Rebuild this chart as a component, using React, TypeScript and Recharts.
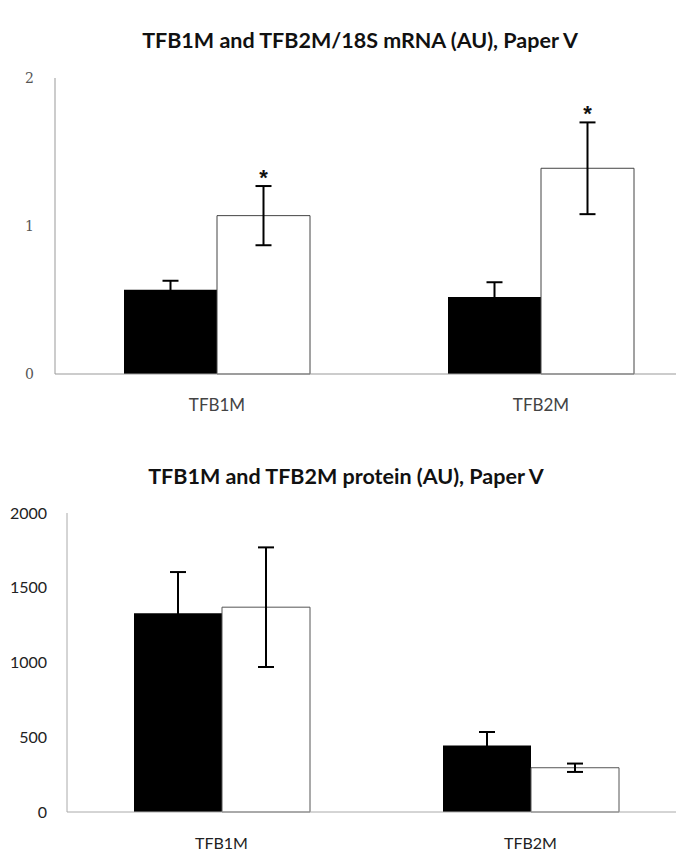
import React from "react";
import { BarChart, Bar, XAxis, YAxis, ErrorBar, LabelList } from "recharts";

// top chart: mRNA relative to 18S
const categories = ["TFB1M", "TFB2M"];
const mrnaBlack = [0.57, 0.52];
const mrnaBlackErr = [0.06, 0.1];
const mrnaWhite = [1.07, 1.39];
const mrnaWhiteErr = [0.2, 0.31];
const mrnaSig = ["*", "*"];
const mrnaTicks = [0, 1, 2];

// bottom chart: protein
const protBlack = [1330, 445];
const protBlackErr = [275, 90];
const protWhite = [1370, 296];
const protWhiteErr = [400, 28];
const protTicks = [0, 500, 1000, 1500, 2000];

const mrnaData = categories.map((c, i) => ({
  name: c,
  black: mrnaBlack[i],
  blackErr: mrnaBlackErr[i],
  white: mrnaWhite[i],
  whiteErr: mrnaWhiteErr[i],
  sig: mrnaSig[i],
}));

const protData = categories.map((c, i) => ({
  name: c,
  black: protBlack[i],
  blackErr: protBlackErr[i],
  white: protWhite[i],
  whiteErr: protWhiteErr[i],
}));

const titleFont = "Lato, 'Open Sans', sans-serif";

// asterisk sits just above the top of the error bar
const Star = (props: any) => {
  const vb = props.viewBox || props;
  const { x, y, width, height } = vb;
  const d = mrnaData[props.index];
  if (!d || !d.sig) return null;
  const pxPerUnit = height / d.white;
  const errTop = y - d.whiteErr * pxPerUnit;
  return (
    <text x={x + width / 2} y={errTop - 1} textAnchor="middle" fontSize={22} fontWeight={700}
      fontFamily="'Liberation Sans', Arial, sans-serif" fill="#111">
      {d.sig}
    </text>
  );
};

const App = () => (
  <div style={{ position: "absolute", left: 0, top: 0, width: 676, height: 853, overflow: "hidden", background: "#fff" }}>
    <div style={{ position: "absolute", top: 27, left: 0, width: 720, textAlign: "center", fontFamily: titleFont, fontWeight: 700, fontSize: 21.5, color: "#111" }}>
      TFB1M and TFB2M/18S mRNA (AU), Paper V
    </div>
    <div style={{ position: "absolute", top: 0, left: 0 }}>
      <BarChart width={710} height={430} data={mrnaData} margin={{ top: 78, right: 7, left: 15, bottom: 0 }} barGap={0} barSize={93}>
        <XAxis dataKey="name" axisLine={{ stroke: "#999" }} tickLine={false} height={56} tickMargin={19}
          tick={{ fill: "#444", fontSize: 17, fontFamily: titleFont }} />
        <YAxis domain={[0, 2]} ticks={mrnaTicks} width={40} axisLine={{ stroke: "#999" }} tickLine={false} tickMargin={15}
          tick={{ fill: "#555", fontSize: 14, fontFamily: "'DejaVu Serif', serif" }} />
        <Bar dataKey="black" fill="#000" isAnimationActive={false}>
          <ErrorBar dataKey="blackErr" width={8} strokeWidth={2} stroke="#000" />
        </Bar>
        <Bar dataKey="white" fill="#fff" stroke="#444" strokeWidth={1} isAnimationActive={false}>
          <ErrorBar dataKey="whiteErr" width={8} strokeWidth={2} stroke="#000" />
          <LabelList dataKey="sig" content={Star} />
        </Bar>
      </BarChart>
    </div>

    <div style={{ position: "absolute", top: 463, left: 0, width: 692, textAlign: "center", fontFamily: titleFont, fontWeight: 700, fontSize: 21.5, color: "#111" }}>
      TFB1M and TFB2M protein (AU), Paper V
    </div>
    <div style={{ position: "absolute", top: 430, left: 0 }}>
      <BarChart width={690} height={423} data={protData} margin={{ top: 83, right: 5, left: 7, bottom: 0 }} barGap={0} barSize={88}>
        <XAxis dataKey="name" axisLine={{ stroke: "#aaa" }} tickLine={false} height={41} tickMargin={20}
          tick={{ fill: "#222", fontSize: 16, fontFamily: titleFont }} />
        <YAxis domain={[0, 2000]} ticks={protTicks} width={60} axisLine={{ stroke: "#aaa" }} tickLine={false} tickMargin={14}
          tick={{ fill: "#222", fontSize: 16, fontFamily: titleFont }} />
        <Bar dataKey="black" fill="#000" isAnimationActive={false}>
          <ErrorBar dataKey="blackErr" width={8} strokeWidth={2} stroke="#000" />
        </Bar>
        <Bar dataKey="white" fill="#fff" stroke="#555" strokeWidth={1} isAnimationActive={false}>
          <ErrorBar dataKey="whiteErr" width={8} strokeWidth={2} stroke="#000" />
        </Bar>
      </BarChart>
    </div>
  </div>
);

export default App;
